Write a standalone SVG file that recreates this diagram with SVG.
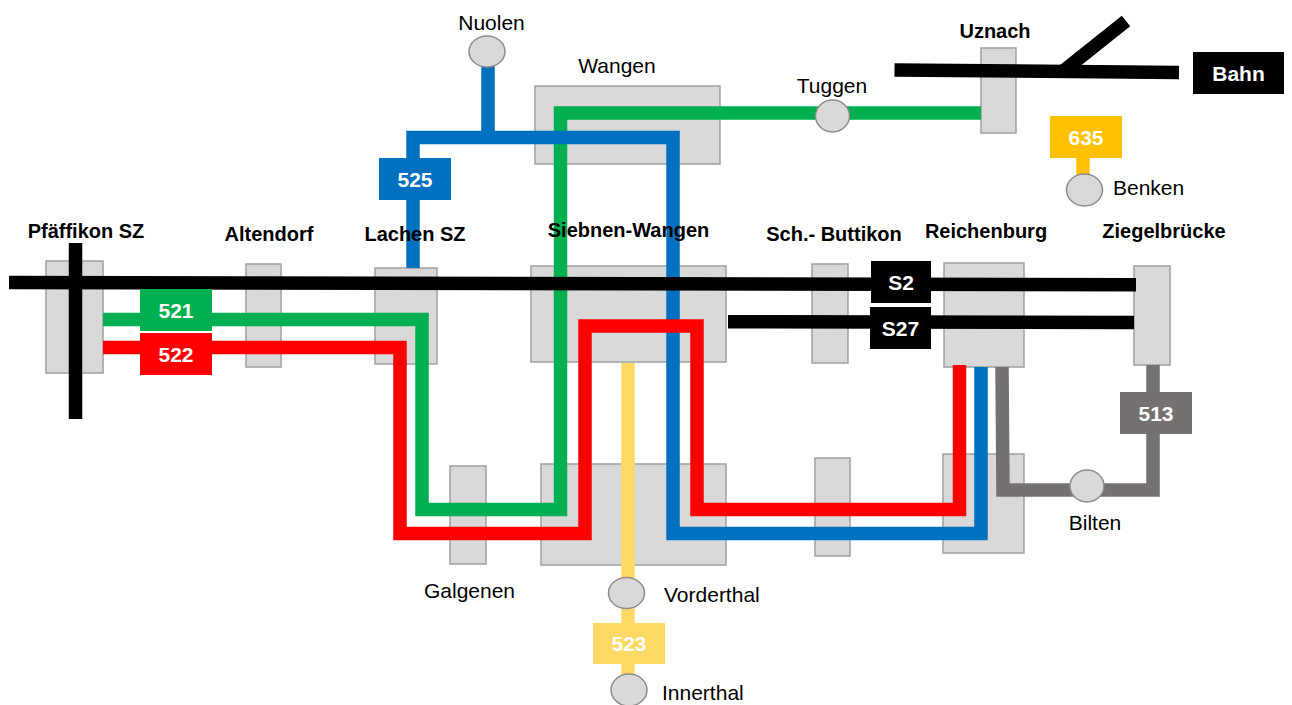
<svg xmlns="http://www.w3.org/2000/svg" width="1292" height="705" viewBox="0 0 1292 705">
<style>
.st{fill:#D9D9D9;stroke:#A0A0A0;stroke-width:1.5}
.stop{fill:#D9D9D9;stroke:#8C8C8C;stroke-width:1.5}
.bn{font-family:"Liberation Sans",Arial,sans-serif;font-weight:bold;font-size:20px;fill:#000;text-anchor:middle}
.rn{font-family:"Liberation Sans",Arial,sans-serif;font-size:21px;fill:#000}
.lb{font-family:"Liberation Sans",Arial,sans-serif;font-weight:bold;font-size:21px;fill:#fff;text-anchor:middle}
.ln{fill:none;stroke-width:13.5;stroke-linejoin:miter;stroke-linecap:butt}
</style>
<rect width="1292" height="705" fill="#fff"/>
<g id="pfaeffikon"><rect class="st" x="46" y="261" width="57" height="112"/></g>
<g id="altendorf"><rect class="st" x="246" y="264" width="35" height="103"/></g>
<g id="lachen"><rect class="st" x="375" y="268" width="62" height="96"/></g>
<g id="wangen"><rect class="st" x="535" y="86" width="185" height="78"/></g>
<g id="siebnen"><rect class="st" x="531" y="266" width="195" height="96"/><rect class="st" x="541" y="464" width="185" height="101"/></g>
<g id="galgenen"><rect class="st" x="450" y="466" width="36" height="98"/></g>
<g id="buttikon"><rect class="st" x="812" y="264" width="36" height="99"/><rect class="st" x="815" y="458" width="35" height="98"/></g>
<g id="reichenburg"><rect class="st" x="944" y="263" width="80" height="104"/><rect class="st" x="943" y="454" width="81" height="99"/></g>
<g id="ziegelbruecke"><rect class="st" x="1134" y="266" width="36" height="99"/></g>
<g id="uznach"><rect class="st" x="981" y="48" width="35" height="85"/></g>

<g id="connectors">
<path class="ln" stroke="#00B050" d="M103 319.5 L422 319.5 L422 509.5 L560.5 509.5 L560.5 113 L981 113"/>
<path class="ln" stroke="#0070C0" d="M413 268 L413 137.5 L673 137.5 L673 533.5 L981 533.5 L981 367"/>
<path class="ln" stroke="#0070C0" d="M488 66 L488 137.5"/>
<path class="ln" stroke="#FF0000" d="M103 347.5 L400 347.5 L400 533.5 L585 533.5 L585 326 L697 326 L697 509.5 L959.5 509.5 L959.5 365"/>
<path class="ln" stroke="#767171" d="M1002 367 L1003 490 L1153 490 L1153 365"/>
<path class="ln" stroke="#FFD966" d="M628 363 L628 690"/>
<path class="ln" stroke="#FFC000" d="M1083 158 L1083 178"/>
<path class="ln" stroke="#000" d="M9 282.5 L1136 284.7"/>
<path class="ln" stroke="#000" d="M728 321.7 L1134 322.5"/>
<path class="ln" stroke="#000" d="M75.5 243 L75.5 419"/>
<path class="ln" stroke="#000" d="M894.5 70 L1179 72.5"/>
<path class="ln" stroke="#000" d="M1062 72 L1126 21"/>
</g>

<g id="station-labels">
<text class="bn" x="86" y="237.5">Pfäffikon SZ</text>
<text class="bn" x="269" y="241">Altendorf</text>
<text class="bn" x="415" y="241">Lachen SZ</text>
<text class="rn" x="617" y="72.5" text-anchor="middle">Wangen</text>
<text class="bn" x="628.5" y="237">Siebnen-Wangen</text>
<text class="rn" x="469.5" y="598" text-anchor="middle">Galgenen</text>
<text class="bn" x="834" y="240.5">Sch.- Buttikon</text>
<text class="bn" x="986" y="238">Reichenburg</text>
<text class="bn" x="1164" y="238">Ziegelbrücke</text>
<text class="bn" x="995" y="37.5">Uznach</text>
</g>

<g id="nuolen"><ellipse class="stop" cx="487" cy="51.5" rx="18" ry="15.5"/><text class="rn" x="491.5" y="30" text-anchor="middle">Nuolen</text></g>
<g id="tuggen"><ellipse class="stop" cx="832.5" cy="116" rx="17" ry="16"/><text class="rn" x="832" y="93" text-anchor="middle">Tuggen</text></g>
<g id="benken"><ellipse class="stop" cx="1084.5" cy="190" rx="18" ry="16"/><text class="rn" x="1113" y="195">Benken</text></g>
<g id="bilten"><ellipse class="stop" cx="1087" cy="486" rx="17" ry="16"/><text class="rn" x="1095" y="530" text-anchor="middle">Bilten</text></g>
<g id="vorderthal"><ellipse class="stop" cx="626.5" cy="593" rx="18" ry="15.5"/><text class="rn" x="664" y="602">Vorderthal</text></g>
<g id="innerthal"><ellipse class="stop" cx="629" cy="690" rx="18" ry="16"/><text class="rn" x="662" y="700">Innerthal</text></g>

<g id="l521"><rect x="140" y="289" width="72" height="42" fill="#00B050"/><text class="lb" x="176" y="318">521</text></g>
<g id="l522"><rect x="140" y="333" width="72" height="42" fill="#FF0000"/><text class="lb" x="176" y="362">522</text></g>
<g id="l525"><rect x="379" y="158" width="72" height="42" fill="#0070C0"/><text class="lb" x="415" y="187">525</text></g>
<g id="l523"><rect x="593" y="623" width="72" height="41" fill="#FFD966"/><text class="lb" x="629" y="651">523</text></g>
<g id="l635"><rect x="1050" y="116" width="72" height="42" fill="#FFC000"/><text class="lb" x="1086" y="145">635</text></g>
<g id="l513"><rect x="1120" y="392" width="72" height="42" fill="#767171"/><text class="lb" x="1156" y="421">513</text></g>
<g id="lS2"><rect x="871" y="261" width="60" height="42" fill="#000"/><text class="lb" x="901" y="290">S2</text></g>
<g id="lS27"><rect x="870" y="307" width="61" height="42" fill="#000"/><text class="lb" x="900.5" y="336">S27</text></g>
<g id="lBahn"><rect x="1193" y="52" width="91" height="42" fill="#000"/><text class="lb" x="1238.5" y="81">Bahn</text></g>
</svg>
